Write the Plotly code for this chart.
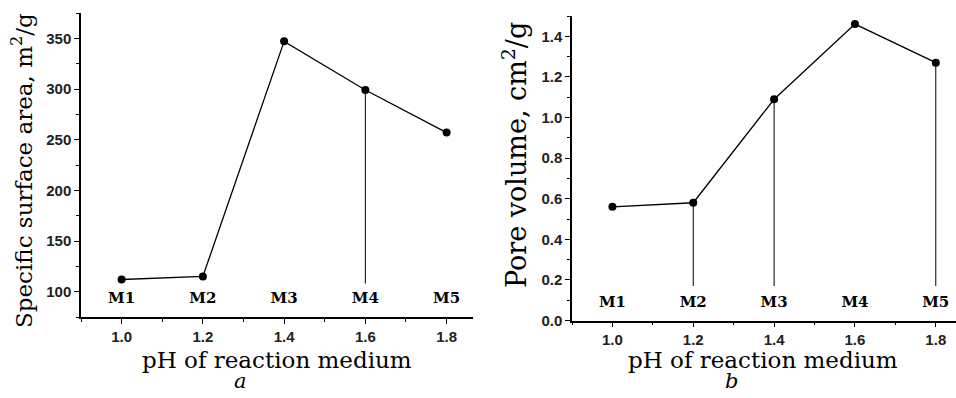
import plotly.graph_objects as go

# ---- data ----
ph = [1.0, 1.2, 1.4, 1.6, 1.8]
samples = ["M1", "M2", "M3", "M4", "M5"]
surface_area = [112, 115, 347, 299, 257]          # m2/g (panel a)
pore_volume = [0.56, 0.58, 1.09, 1.46, 1.27]      # cm3/g (panel b)
drop_a = ["M4"]                                   # samples with drop lines, panel a
drop_b = ["M2", "M3", "M5"]                       # samples with drop lines, panel b
drop_end_a = 108
drop_end_b = 0.17
label_y_a = 93
label_y_b = 0.085

W, H = 956, 398
HE = 390  # effective rendered height used for paper-coordinate placement
fig = go.Figure()

def px_x(a, b):
    return [a / W, b / W]

def px_y(top, bottom):
    return [1 - bottom / HE, 1 - top / HE]

def py(y):
    return 1 - y / HE

# line + markers
fig.add_trace(go.Scatter(x=ph, y=surface_area, mode="lines+markers",
                         line=dict(color="black", width=1.3),
                         marker=dict(color="black", size=8),
                         xaxis="x", yaxis="y", showlegend=False))
fig.add_trace(go.Scatter(x=ph, y=pore_volume, mode="lines+markers",
                         line=dict(color="black", width=1.3),
                         marker=dict(color="black", size=8),
                         xaxis="x2", yaxis="y2", showlegend=False))

# drop lines
for s in drop_a:
    i = samples.index(s)
    fig.add_trace(go.Scatter(x=[ph[i], ph[i]], y=[surface_area[i], drop_end_a],
                             mode="lines", line=dict(color="black", width=1),
                             xaxis="x", yaxis="y", showlegend=False, hoverinfo="skip"))
for s in drop_b:
    i = samples.index(s)
    fig.add_trace(go.Scatter(x=[ph[i], ph[i]], y=[pore_volume[i], drop_end_b],
                             mode="lines", line=dict(color="black", width=1),
                             xaxis="x2", yaxis="y2", showlegend=False, hoverinfo="skip"))

# sample labels
lab_font = dict(family="DejaVu Serif", size=15, color="black", weight="bold")
fig.add_trace(go.Scatter(x=ph, y=[label_y_a] * len(ph), mode="text",
                         text=samples, textfont=lab_font, cliponaxis=False,
                         xaxis="x", yaxis="y", showlegend=False, hoverinfo="skip"))
fig.add_trace(go.Scatter(x=ph, y=[label_y_b] * len(ph), mode="text",
                         text=samples, textfont=lab_font, cliponaxis=False,
                         xaxis="x2", yaxis="y2", showlegend=False, hoverinfo="skip"))

tickfont = dict(family="Liberation Sans", size=15, color="#222", weight="bold")
common_x = dict(showline=True, linecolor="black", linewidth=1.5, ticks="outside",
                ticklen=5, tickwidth=1.2, tickcolor="black", showgrid=False, zeroline=False,
                tickvals=ph, ticktext=["%.1f" % v for v in ph], tickfont=tickfont,
                minor=dict(ticks="outside", ticklen=3, tickwidth=1, tickcolor="black", dtick=0.1, tick0=0.9))
common_y = dict(showline=True, linecolor="black", linewidth=1.5, ticks="outside",
                ticklen=5, tickwidth=1.2, tickcolor="black", showgrid=False, zeroline=False,
                tickfont=tickfont)

yvals_a = [100, 150, 200, 250, 300, 350]
yvals_b = [0.0, 0.2, 0.4, 0.6, 0.8, 1.0, 1.2, 1.4]

fig.update_layout(
    width=W, height=H, margin=dict(l=0, r=0, t=0, b=0), autosize=False,
    paper_bgcolor="white", plot_bgcolor="white",
    xaxis=dict(domain=px_x(81, 473), range=[0.9, 1.865], anchor="y", **common_x),
    yaxis=dict(domain=px_y(13, 317), range=[75, 375], anchor="x",
               tickvals=yvals_a, ticktext=["%d" % v for v in yvals_a],
               minor=dict(ticks="outside", ticklen=3, tickwidth=1, tickcolor="black", dtick=25, tick0=75),
               **common_y),
    xaxis2=dict(domain=px_x(572, 956), range=[0.9, 1.85], anchor="y2", **common_x),
    yaxis2=dict(domain=px_y(16, 320.5), range=[0, 1.5], anchor="x2",
                tickvals=yvals_b, ticktext=["%.1f" % v for v in yvals_b],
                minor=dict(ticks="outside", ticklen=3, tickwidth=1, tickcolor="black", dtick=0.1, tick0=0),
                **common_y),
)

title_font = dict(family="DejaVu Serif", size=23, color="black")
fig.add_annotation(text="Specific surface area, m<sup>2</sup>/g", textangle=-90,
                   x=22 / W, y=py(171), xref="paper", yref="paper",
                   showarrow=False, font=title_font, xanchor="center", yanchor="middle")
fig.add_annotation(text="Pore volume, cm<sup>2</sup>/g", textangle=-90,
                   x=515 / W, y=py(155), xref="paper", yref="paper",
                   showarrow=False, font=dict(family="DejaVu Serif", size=27, color="black"),
                   xanchor="center", yanchor="middle")
fig.add_annotation(text="pH of reaction medium", x=277 / W, y=py(360),
                   xref="paper", yref="paper", showarrow=False, font=title_font,
                   xanchor="center", yanchor="middle")
fig.add_annotation(text="pH of reaction medium", x=763 / W, y=py(360),
                   xref="paper", yref="paper", showarrow=False, font=title_font,
                   xanchor="center", yanchor="middle")
sub_font = dict(family="DejaVu Serif", size=21, color="black", style="italic")
fig.add_annotation(text="a", x=240 / W, y=py(381), xref="paper", yref="paper",
                   showarrow=False, font=sub_font, xanchor="center", yanchor="middle")
fig.add_annotation(text="b", x=731 / W, y=py(381), xref="paper", yref="paper",
                   showarrow=False, font=sub_font, xanchor="center", yanchor="middle")

fig.write_html("out.html",
               config={"displayModeBar": False, "responsive": False},
               post_script="document.body.style.margin='0';document.body.style.overflow='hidden';")
